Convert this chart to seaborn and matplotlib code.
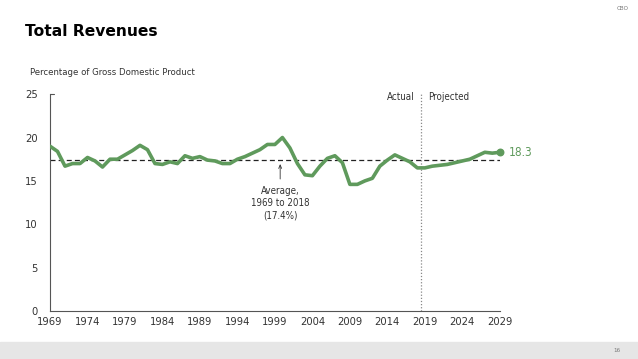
import pandas as pd
import matplotlib.pyplot as plt
import seaborn as sns

# Revenues as % of GDP, actual 1969-2018 and projected 2019-2029
years = list(range(1969, 2030))
revenues = [19.0, 18.4, 16.7, 17.0, 17.0, 17.7, 17.3, 16.6, 17.5, 17.5,
            18.0, 18.5, 19.1, 18.6, 17.0, 16.9, 17.2, 17.0, 17.9, 17.6,
            17.8, 17.4, 17.3, 17.0, 17.0, 17.5, 17.8, 18.2, 18.6, 19.2,
            19.2, 20.0, 18.8, 17.0, 15.7, 15.6, 16.7, 17.6, 17.9, 17.1,
            14.6, 14.6, 15.0, 15.3, 16.7, 17.4, 18.0, 17.6, 17.2, 16.5,
            16.5, 16.7, 16.8, 16.9, 17.1, 17.3, 17.5, 17.9, 18.3, 18.2,
            18.3]
average = 17.4
x_ticks = list(range(1969, 2030, 5))
y_ticks = [0, 5, 10, 15, 20, 25]

df = pd.DataFrame({"year": years, "revenue": revenues})

green = "#5f9a5c"
text_gray = "#333333"

sns.set_style("white")
plt.rcParams["font.family"] = ["DejaVu Sans"]
plt.rcParams["font.stretch"] = "condensed"

fig = plt.figure(figsize=(6.38, 3.59), dpi=100)
ax = fig.add_axes([0.0784, 0.1337, 0.705, 0.604])

# average line and actual/projected divider
ax.axhline(average, color="#222222", lw=0.9, ls=(0, (4, 2.5)), zorder=1)
ax.axvline(2018.5, color="#888888", lw=0.9, ls=(0, (1, 1.5)), zorder=1)

sns.lineplot(data=df, x="year", y="revenue", color=green, lw=2.6, ax=ax,
             zorder=3, solid_capstyle="round", solid_joinstyle="round")
ax.scatter([years[-1]], [revenues[-1]], s=22, color=green, zorder=4,
           clip_on=False)
ax.text(years[-1] + 1.2, revenues[-1], f"{revenues[-1]:.1f}", color=green,
        fontsize=8.5, va="center", ha="left")

ax.text(2017.6, 24.7, "Actual", fontsize=7, color=text_gray, ha="right", va="center")
ax.text(2019.5, 24.7, "Projected", fontsize=7, color=text_gray, ha="left", va="center")

ax.annotate("Average,\n1969 to 2018\n(17.4%)", xy=(1999.7, 16.95),
            xytext=(1999.7, 12.4), ha="center", va="center", fontsize=7,
            color=text_gray, linespacing=1.25,
            arrowprops=dict(arrowstyle="->,head_length=0.35,head_width=0.15",
                            color=text_gray, lw=0.6, shrinkA=3, shrinkB=0))

ax.set_xlim(1969, 2029)
ax.set_ylim(0, 25)
ax.set_xticks(x_ticks)
ax.set_yticks(y_ticks)
ax.set_xlabel("")
ax.set_ylabel("")
for s in ["top", "right"]:
    ax.spines[s].set_visible(False)
for s in ["left", "bottom"]:
    ax.spines[s].set_color("#555555")
    ax.spines[s].set_linewidth(0.8)
ax.tick_params(axis="x", direction="in", length=3, width=0.6, color="#555555",
               labelsize=8, labelcolor=text_gray, pad=4)
ax.tick_params(axis="y", length=0, labelsize=8, labelcolor=text_gray, pad=9)
ax.plot([1969, 1969.5], [25, 25], color="#555555", lw=0.8, clip_on=False)

fig.text(0.039, 0.911, "Total Revenues", fontsize=11.2, fontweight="heavy",
         fontstretch="normal", color="black", va="center", ha="left")
fig.text(0.047, 0.797, "Percentage of Gross Domestic Product", fontsize=6.8,
         color=text_gray, va="center", ha="left")
fig.text(0.985, 0.975, "CBO", fontsize=4.5, color="#777777", ha="right", va="center")

# grey footer band
fig.patches.append(plt.Rectangle((0, 0), 1, 0.047, transform=fig.transFigure,
                                 color="#e6e6e6", zorder=0))
fig.text(0.972, 0.024, "16", fontsize=4.5, color="#777777", ha="right", va="center")

fig.savefig("out.png", dpi=100)
